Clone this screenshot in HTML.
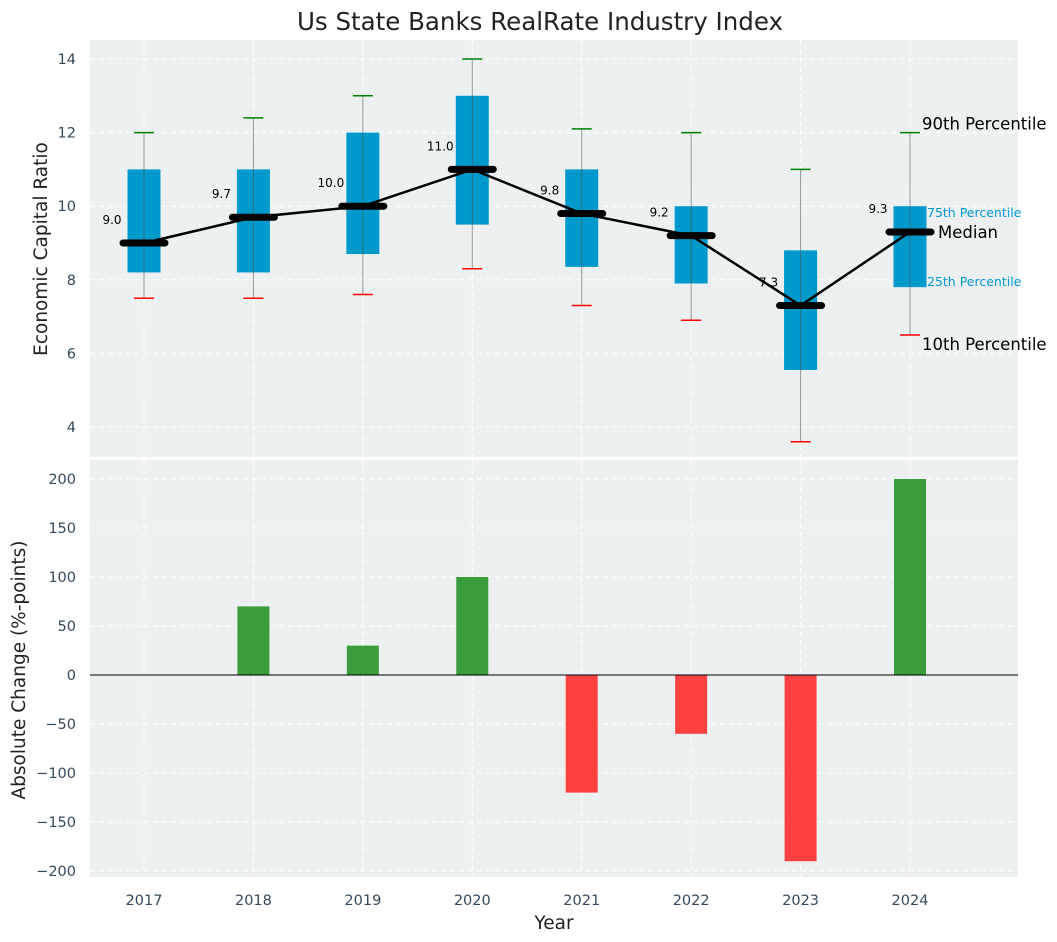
<!DOCTYPE html>
<html><head><meta charset="utf-8"><style>
body{margin:0;background:#fff;}
svg{display:block;font-family:"DejaVu Sans","Liberation Sans",sans-serif;}
</style></head><body>
<svg id="chart" width="1057" height="942" xmlns="http://www.w3.org/2000/svg"></svg>
<script>
const years=[2017,2018,2019,2020,2021,2022,2023,2024];
const p10=[7.5,7.5,7.6,8.3,7.3,6.9,3.6,6.5];
const p25=[8.2,8.2,8.7,9.5,8.35,7.9,5.55,7.8];
const median=[9.0,9.7,10.0,11.0,9.8,9.2,7.3,9.3];
const p75=[11,11,12,13,11,10,8.8,10];
const p90=[12,12.4,13,14,12.1,12,11,12];
const change=[0,70,30,100,-120,-60,-190,200];
const topTicks=[4,6,8,10,12,14];
const botTicks=[-200,-150,-100,-50,0,50,100,150,200];

const NS="http://www.w3.org/2000/svg";
const svg=document.getElementById('chart');
function el(tag,attrs,parent){const e=document.createElementNS(NS,tag);for(const k in attrs)e.setAttribute(k,attrs[k]);(parent||svg).appendChild(e);return e;}
const L=90,R=1018;
const x=v=>144+(v-2017)*109.43;
const yT=v=>59+(14-v)*36.8;
const yB=v=>675-v*0.98;

let bg=el('rect',{x:L,y:40,width:R-L,height:417,fill:'#ECF0F1'});

let bg2=el('rect',{x:L,y:460,width:R-L,height:417,fill:'#ECF0F1'});


years.forEach(yr=>{
  el('line',{x1:x(yr),x2:x(yr),y1:40,y2:457,stroke:'#fff','stroke-dasharray':'5,4','stroke-width':1});
  el('line',{x1:x(yr),x2:x(yr),y1:460,y2:877,stroke:'#fff','stroke-dasharray':'5,4','stroke-width':1});
  let t=el('text',{x:x(yr),y:905,'text-anchor':'middle','font-size':14.5,fill:'#34495e'});t.textContent=yr;
  
});
topTicks.forEach(v=>{
  el('line',{x1:L,x2:R,y1:yT(v),y2:yT(v),stroke:'#fff','stroke-dasharray':'5,4'});
  let t=el('text',{x:76,y:yT(v)+5,'text-anchor':'end','font-size':14.5,fill:'#34495e'});t.textContent=v;
  
});
botTicks.forEach(v=>{
  el('line',{x1:L,x2:R,y1:yB(v),y2:yB(v),stroke:'#fff','stroke-dasharray':'5,4'});
  let t=el('text',{x:76,y:yB(v)+5,'text-anchor':'end','font-size':14.5,fill:'#34495e'});t.textContent=(v<0?'\u2212'+(-v):v);
  
});

years.forEach((yr,i)=>{
  const cx=x(yr);
  let b=el('rect',{x:cx-16.5,y:yT(p75[i]),width:33,height:yT(p25[i])-yT(p75[i]),fill:'#0099CC'});
  
  let w=el('line',{x1:cx,x2:cx,y1:yT(p90[i]),y2:yT(p10[i]),stroke:'#555','stroke-opacity':0.6,'stroke-width':1});
  
  let c1=el('line',{x1:cx-10,x2:cx+10,y1:yT(p90[i]),y2:yT(p90[i]),stroke:'green','stroke-width':1.5});
  
  let c2=el('line',{x1:cx-10,x2:cx+10,y1:yT(p10[i]),y2:yT(p10[i]),stroke:'red','stroke-width':1.5});
  
});
let pts=years.map((yr,i)=>x(yr)+','+yT(median[i])).join(' ');
let ml=el('polyline',{points:pts,fill:'none',stroke:'#000','stroke-width':2.5});

years.forEach((yr,i)=>{
  const cx=x(yr);
  let m=el('line',{x1:cx-21,x2:cx+21,y1:yT(median[i]),y2:yT(median[i]),stroke:'#000','stroke-width':7,'stroke-linecap':'round'});
  
  let t=el('text',{x:cx-32,y:yT(median[i])-19,'text-anchor':'middle','font-size':12,fill:'#000'});t.textContent=median[i].toFixed(1);
  
});
const last=years.length-1, lx=x(years[last]);
[['90th Percentile',lx+12,yT(p90[last])-3,16.5,'#000'],['75th Percentile',lx+17,yT(p75[last])+11,12.5,'#0099CC'],
 ['Median',lx+28,yT(median[last])+6,16.5,'#000'],['25th Percentile',lx+17,yT(p25[last])-1,12.5,'#0099CC'],
 ['10th Percentile',lx+12,yT(p10[last])+15,16.5,'#000']].forEach(a=>{
  let t=el('text',{x:a[1],y:a[2],'font-size':a[3],fill:a[4]});t.textContent=a[0];
  
});

years.forEach((yr,i)=>{
  const v=change[i];if(v===0)return;
  let b=el('rect',{x:x(yr)-16,y:Math.min(yB(v),yB(0)),width:32,height:Math.abs(yB(v)-yB(0)),fill:v>0?'#3A9C3A':'#FF4040'});
  
});
let z=el('line',{x1:L,x2:R,y1:yB(0),y2:yB(0),stroke:'#000','stroke-width':1});


let tt=el('text',{x:540,y:30,'text-anchor':'middle','font-size':24.5,fill:'#222'});tt.textContent='Us State Banks RealRate Industry Index';

let yt=el('text',{x:0,y:0,'text-anchor':'middle','font-size':18.5,fill:'#222',transform:'translate(47,249) rotate(-90)'});yt.textContent='Economic Capital Ratio';

let yb=el('text',{x:0,y:0,'text-anchor':'middle','font-size':18.5,fill:'#222',transform:'translate(25,670) rotate(-90)'});yb.textContent='Absolute Change (%-points)';

let xt=el('text',{x:554,y:929,'text-anchor':'middle','font-size':18.5,fill:'#222'});xt.textContent='Year';

</script>
</body></html>
